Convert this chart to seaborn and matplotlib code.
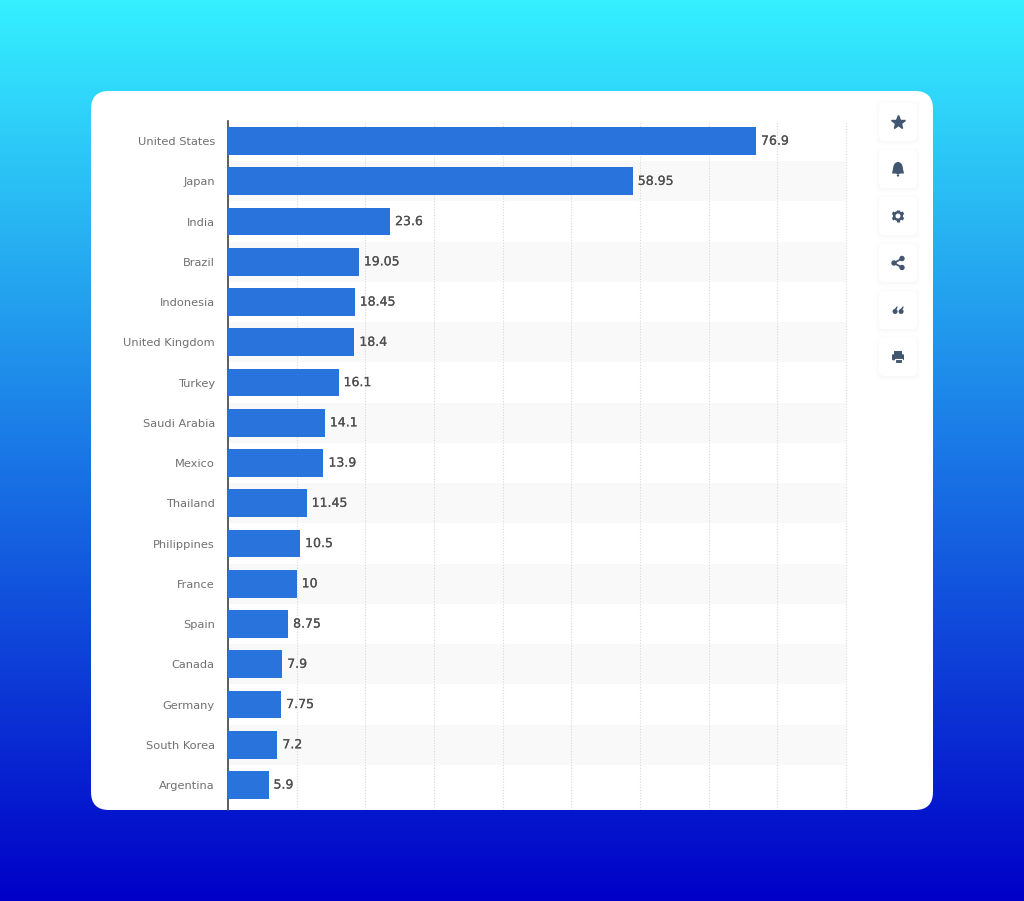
import numpy as np
import pandas as pd
import matplotlib
matplotlib.use("Agg")
import matplotlib.pyplot as plt
import matplotlib.patheffects as pe
from matplotlib.patches import FancyBboxPatch, Rectangle, Circle, Polygon, Ellipse
from matplotlib.colors import LinearSegmentedColormap
import seaborn as sns

countries = ["United States", "Japan", "India", "Brazil", "Indonesia", "United Kingdom",
             "Turkey", "Saudi Arabia", "Mexico", "Thailand", "Philippines", "France",
             "Spain", "Canada", "Germany", "South Korea", "Argentina"]
values = [76.9, 58.95, 23.6, 19.05, 18.45, 18.4, 16.1, 14.1, 13.9, 11.45, 10.5, 10,
          8.75, 7.9, 7.75, 7.2, 5.9]
value_labels = ["76.9", "58.95", "23.6", "19.05", "18.45", "18.4", "16.1", "14.1", "13.9",
                "11.45", "10.5", "10", "8.75", "7.9", "7.75", "7.2", "5.9"]
x_ticks = [0, 10, 20, 30, 40, 50, 60, 70, 80, 90]

W, H = 1024, 901
sns.set_theme(style="white")
plt.rcParams["font.family"] = ["DejaVu Sans"]
fig = plt.figure(figsize=(W / 100, H / 100), dpi=100)

# page background and card, in pixel coordinates
bg = fig.add_axes([0, 0, 1, 1], zorder=0)
bg.axis("off")
cmap = LinearSegmentedColormap.from_list("page", ["#35F0FF", "#1A78E6", "#0000C8"])
bg.imshow(np.linspace(0, 1, 512).reshape(-1, 1), cmap=cmap, aspect="auto",
          extent=[0, W, H, 0], zorder=0)
bg.set_xlim(0, W)
bg.set_ylim(H, 0)
bg.add_patch(FancyBboxPatch((109, 109), 806, 683,
                            boxstyle="round,pad=18,rounding_size=18",
                            fc="white", ec="none", zorder=2))

# chart
ax = fig.add_axes([228 / W, (H - 810) / H, (847 - 228) / W, (810 - 121) / H], zorder=1)
ax.patch.set_alpha(0)
df = pd.DataFrame({"country": countries, "value": values})
sns.barplot(data=df, x="value", y="country", orient="h", color="#2873DC",
            saturation=1, width=0.69, linewidth=0, edgecolor="none", ax=ax, zorder=3)
ax.set_xlim(0, 90.15)
ax.set_ylim(16.62, -0.50)
for i in range(1, len(countries), 2):
    ax.axhspan(i - 0.5, i + 0.5, xmax=90 / 90.15, color="#F9F9F9", lw=0, zorder=0)
ax.set_xticks(x_ticks)
ax.tick_params(axis="x", length=0, labelbottom=False)
ax.grid(axis="x", color="#D8D8D8", lw=0.8, ls=(0, (1, 1.5)), zorder=1)
ax.set_axisbelow(True)
ax.set_xlabel("")
ax.set_ylabel("")
for s in ["top", "right", "bottom"]:
    ax.spines[s].set_visible(False)
ax.spines["left"].set_color("#444444")
ax.spines["left"].set_linewidth(1.2)
ax.tick_params(axis="y", length=0, pad=9.5, labelsize=8.2, labelcolor="#707070")
for c, v, t in zip(ax.containers[0], values, value_labels):
    ax.annotate(t, (v, c.get_y() + c.get_height() / 2), xytext=(3.6, 0),
                textcoords="offset points", ha="left", va="center",
                fontsize=9, color="#505050", zorder=5,
                path_effects=[pe.withStroke(linewidth=0.15, foreground="#505050")])

# toolbar buttons
ink = "#42566F"
centres = [122, 169, 216, 263, 310, 357]
cx = 898
ov = fig.add_axes([0, 0, 1, 1], zorder=2)
ov.set_xlim(0, W)
ov.set_ylim(H, 0)
ov.axis("off")
for cy in centres:
    for g, a in [(4, 0.005), (2.5, 0.007), (1, 0.01)]:
        ov.add_patch(FancyBboxPatch((cx - 15 - g, cy - 15 - g + 1), 30 + 2 * g, 30 + 2 * g,
                                    boxstyle="round,pad=4,rounding_size=5",
                                    fc=(0, 0, 0, a), ec="none", zorder=1))
    ov.add_patch(FancyBboxPatch((cx - 15, cy - 15), 30, 30,
                                boxstyle="round,pad=4,rounding_size=5", fc="white", ec="none", zorder=1))
# star
ov.plot([cx], [122], marker="*", ms=10.5, color=ink, mec=ink, zorder=3)
# bell
ov.add_patch(Ellipse((cx, 168), 9.6, 12, fc=ink, ec="none", zorder=3))
ov.add_patch(Polygon([(cx - 4.8, 168), (cx + 4.8, 168), (cx + 6, 173.5), (cx - 6, 173.5)],
                     fc=ink, ec="none", zorder=3))
ov.add_patch(Circle((cx, 175.4), 1.2, fc=ink, ec="none", zorder=3))
# gear
for ang in np.deg2rad([0, 60, 120]):
    dx, dy = 6.4 * np.cos(ang + np.pi / 6), 6.4 * np.sin(ang + np.pi / 6)
    ov.plot([cx - dx, cx + dx], [216 - dy, 216 + dy], color=ink, lw=2.2,
            solid_capstyle="butt", zorder=3)
ov.add_patch(Circle((cx, 216), 5, fc=ink, ec="none", zorder=3))
ov.add_patch(Circle((cx, 216), 2.5, fc="white", ec="none", zorder=4))
# share
pts = [(cx + 4, 258.5), (cx - 4, 263), (cx + 4, 267.5)]
ov.plot([p[0] for p in pts], [p[1] for p in pts], color=ink, lw=1.3, zorder=3)
for p in pts:
    ov.add_patch(Circle(p, 2.7, fc=ink, ec="none", zorder=3))
# quote
for qx in (cx - 2.9, cx + 3.1):
    ov.add_patch(Circle((qx, 311.5), 2.5, fc=ink, ec="none", zorder=3))
    ov.add_patch(Polygon([(qx - 2.5, 311.5), (qx + 2, 306), (qx + 2.5, 307.5), (qx + 0.2, 311.5)],
                         fc=ink, ec="none", zorder=3))
# printer
ov.add_patch(Rectangle((cx - 4, 351), 8, 4, fc=ink, ec="none", zorder=3))
ov.add_patch(FancyBboxPatch((cx - 5.7, 354.5), 11.4, 5.5, boxstyle="round,pad=0.3,rounding_size=1.2",
                            fc=ink, ec="none", zorder=3))
ov.add_patch(Rectangle((cx - 3.5, 358.5), 7, 4.5, fc=ink, ec="white", lw=0.8, zorder=4))

fig.savefig("out.png", dpi=100)
